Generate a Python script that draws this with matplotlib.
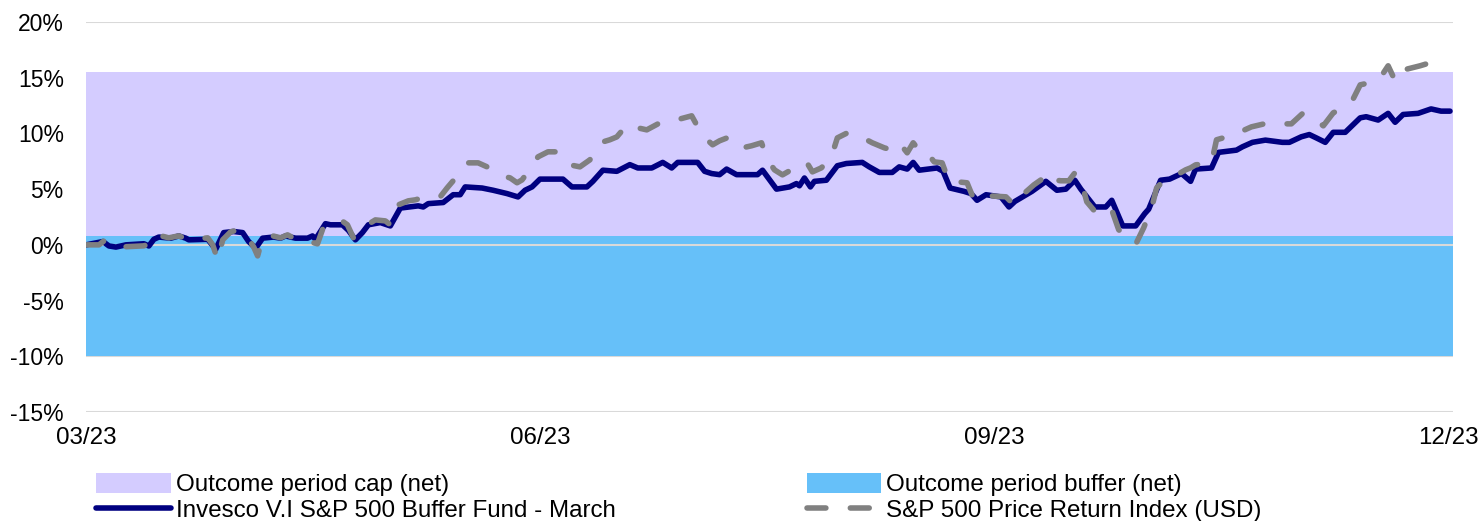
import numpy as np
import matplotlib.pyplot as plt
from matplotlib.patches import Patch
from matplotlib.lines import Line2D

plt.rcParams['font.family'] = ['Liberation Sans', 'DejaVu Sans']

# days since start of the outcome period, cumulative return in %
fund_days = [0, 3.4, 4.6, 6.0, 8.0, 11.6, 12.6, 13.6, 14.6, 17.0, 18.6, 20.0,
             20.6, 24.4, 26.0, 27.6, 29.6, 31.4, 32.6, 34.0, 35.4, 37.6, 39.0,
             40.0, 42.0, 44.4, 45.4, 46.0, 48.0, 49.0, 51.4, 52.6, 54.0, 55.4,
             56.6, 59.0, 61.0, 63.0, 66.6, 67.6, 68.6, 71.6, 73.6, 75.0, 76.0,
             79.4, 81.6, 84.4, 86.6, 88.0, 89.4, 91.0, 95.6, 97.4, 100.4,
             101.6, 103.6, 106.4, 109.0, 110.6, 113.4, 115.6, 117.4, 118.6,
             122.6, 124.0, 125.4, 127.0, 128.4, 130.4, 134.6, 135.6, 138.4,
             141.0, 142.4, 143.0, 144.0, 145.2, 146.0, 148.4, 150.6, 152.4,
             155.6, 157.0, 159.0, 161.6, 163.0, 164.6, 165.8, 167.0, 170.6,
             171.8, 173.2, 176.0, 177.4, 178.6, 180.4, 183.4, 185.0, 186.2,
             189.6, 192.4, 194.6, 196.4, 198.2, 199.4, 202.2, 204.4, 205.6,
             207.8, 210.4, 212.2, 213.0, 215.4, 217.2, 219.6, 221.4, 222.4,
             225.6, 227.0, 230.6, 231.8, 233.8, 236.4, 239.8, 241.2, 243.6,
             245.2, 246.6, 248.4, 250.0, 252.4, 255.4, 256.6, 259.0, 261.0,
             262.4, 264.0, 267.0, 269.6, 271.6, 273.4]
fund_ret = [0.0, 0.3, -0.1, -0.2, 0.0, 0.1, -0.1, 0.5, 0.7, 0.6, 0.8, 0.6,
            0.45, 0.5, -0.4, 1.1, 1.2, 1.1, 0.3, -0.3, 0.6, 0.7, 0.6,
            0.8, 0.6, 0.6, 0.8, 0.5, 1.9, 1.8, 1.8, 1.3, 0.45, 1.1,
            1.8, 2.0, 1.7, 3.3, 3.5, 3.4, 3.7, 3.8, 4.5, 4.5, 5.2,
            5.1, 4.9, 4.6, 4.3, 4.9, 5.2, 5.9, 5.9, 5.2, 5.2,
            5.7, 6.7, 6.6, 7.2, 6.9, 6.9, 7.4, 6.9, 7.4,
            7.4, 6.6, 6.4, 6.3, 6.8, 6.3, 6.3, 6.7, 5.0,
            5.2, 5.5, 5.3, 6.0, 5.2, 5.7, 5.8, 7.1, 7.3,
            7.4, 7.0, 6.5, 6.5, 7.0, 6.8, 7.4, 6.7, 6.9,
            6.6, 5.1, 4.8, 4.6, 4.0, 4.5, 4.3, 3.4, 3.9,
            4.8, 5.7, 4.9, 5.0, 5.8, 5.0, 3.4, 3.4, 4.0,
            1.7, 1.7, 2.8, 3.2, 5.8, 5.9, 6.4, 5.7, 6.8,
            6.9, 8.3, 8.5, 8.8, 9.2, 9.4, 9.2, 9.2, 9.7,
            9.9, 9.6, 9.2, 10.1, 10.1, 11.4, 11.5, 11.2, 11.8,
            11.0, 11.7, 11.8, 12.2, 12.0, 12.0]

spx_days = [0, 2.6, 3.6, 5.4, 7.4, 11.6, 12.6, 13.4, 15.0, 16.6, 18.6, 20.6,
            24.4, 25.4, 26.4, 27.4, 29.0, 30.6, 32.0, 33.6, 34.4, 35.4, 37.4,
            39.0, 40.4, 43.0, 45.0, 46.4, 47.6, 49.0, 51.6, 52.4, 53.6, 55.4,
            58.0, 60.0, 61.0, 62.6, 64.6, 66.0, 67.4, 68.6, 71.0, 72.4, 74.6,
            76.6, 78.6, 80.4, 82.0, 83.4, 85.0, 86.4, 87.4, 88.6, 90.6, 92.6,
            94.6, 97.0, 99.0, 101.0, 103.0, 105.0, 106.4, 108.6, 110.6, 112.4,
            115.4, 117.0, 118.4, 121.4, 122.4, 123.4, 125.6, 127.0, 129.0,
            131.6, 133.4, 135.4, 136.6, 138.0, 139.6, 142.4, 143.4, 144.4,
            145.6, 147.4, 149.4, 150.6, 152.6, 154.6, 157.6, 160.0, 161.4,
            163.0, 164.6, 165.8, 167.4, 168.6, 170.0, 171.6, 173.0, 174.6,
            176.6, 178.0, 179.4, 181.0, 184.4, 185.4, 186.6, 188.4, 190.0,
            191.4, 192.6, 194.0, 195.4, 197.0, 198.2, 199.4, 200.6, 202.8,
            204.2, 205.6, 207.0, 208.6, 210.4, 212.0, 213.6, 214.6, 216.0,
            217.6, 220.4, 221.4, 222.4, 225.6, 226.6, 230.0, 231.8, 233.6,
            237.0, 239.4, 241.6, 244.0, 246.0, 248.0, 250.0, 252.0, 253.6,
            255.4, 257.2, 259.0, 261.0, 262.4, 263.4, 265.0, 267.4, 269.4,
            271.0, 273.0]
spx_ret = [0.0, 0.0, 0.36, -0.18, -0.18, -0.09, 0.09, 0.9, 0.81, 0.63, 0.81,
           0.45, 0.63, 0.0, -1.35, 0.45, 1.17, 1.35, 0.9, -0.18, -0.99, 0.63,
           0.81, 0.63, 0.9, 0.27, 0.27, 0.09, 1.62, 2.06, 2.06, 1.8, 0.63,
           1.53, 2.24, 2.15, 1.8, 3.59, 3.95, 4.04, 4.22, 4.31, 4.31, 5.12,
           6.28, 7.36, 7.36, 7.0, 6.55, 6.19, 6.01, 5.57, 5.83, 6.55, 7.9,
           8.35, 8.35, 7.18, 7.0, 7.63, 9.16, 9.43, 9.69, 10.86, 10.5, 10.32,
           11.04, 11.13, 11.22, 11.58, 10.77, 9.87, 8.98, 9.34, 9.69,
           8.71, 8.89, 9.16, 7.63, 6.73, 6.28, 7.0, 7.27, 7.45,
           6.55, 6.91, 7.9, 9.6, 10.05, 9.87, 9.16, 8.71, 8.53,
           9.16, 8.26, 9.16, 8.26, 8.26, 7.45, 7.36, 5.66, 5.66,
           5.57, 4.04, 4.13, 4.4, 4.31, 3.86, 3.59, 4.76, 5.39,
           5.83, 6.46, 5.83, 5.75, 5.75, 6.46, 5.83, 3.86, 2.69,
           3.05, 3.14, 1.35, 0.72, 0.05, 1.53, 3.32, 5.12, 5.75,
           6.01, 6.73, 6.91, 7.18, 7.36, 9.43, 9.87, 10.23, 10.59,
           10.95, 10.86, 10.86, 11.85, 11.4, 10.68, 11.85, 12.3, 12.75,
           14.36, 14.54, 14.72, 16.07, 14.72, 15.62, 15.8, 16.07, 16.34,
           16.25, 16.07]

# outcome period bands (net)
cap_top = 15.5
band_split = 0.8
buffer_bottom = -10.0

tick_days = [0, 91, 182, 273]
tick_labels = ['03/23', '06/23', '09/23', '12/23']

cap_color = '#d4ccff'
buffer_color = '#66c0f9'
fund_color = '#000080'
spx_color = '#808080'
grid_color = '#d9d9d9'

LW = 4.0
DASH = (3.4, 4.4)

fig = plt.figure(figsize=(14.81, 5.21), dpi=100)
ax = fig.add_axes([86 / 1481, 1 - 412 / 521, 1367 / 1481, 390 / 521])

ax.axhspan(band_split, cap_top, color=cap_color, lw=0, zorder=1)
ax.axhspan(buffer_bottom, band_split, color=buffer_color, lw=0, zorder=1)
ax.axhline(0, color=grid_color, lw=1.5, zorder=2)

ax.plot(fund_days, fund_ret, color=fund_color, lw=LW,
        solid_joinstyle='round', solid_capstyle='round', zorder=3)
ax.plot(spx_days, spx_ret, color=spx_color, lw=LW, dashes=DASH,
        dash_capstyle='round', dash_joinstyle='round', zorder=4)

ax.set_xlim(0, 274)
ax.set_ylim(-15, 20)
ax.set_yticks(np.arange(-15, 21, 5))
ax.set_yticklabels([f'{v}%' for v in range(-15, 21, 5)])
ax.set_xticks(tick_days)
ax.set_xticklabels(tick_labels)
ax.tick_params(length=0)
ax.tick_params(axis='y', pad=16, labelsize=16.5)
ax.tick_params(axis='x', pad=11, labelsize=17.4)
ax.yaxis.grid(True, color=grid_color, lw=1.5)
ax.set_axisbelow(True)
for s in ax.spines.values():
    s.set_visible(False)

handles = [Patch(facecolor=cap_color),
           Line2D([], [], color=fund_color, lw=LW, solid_capstyle='round'),
           Patch(facecolor=buffer_color),
           Line2D([], [], color=spx_color, lw=LW, dashes=DASH,
                  dash_capstyle='round')]
labels = ['Outcome period cap (net)',
          'Invesco V.I S&P 500 Buffer Fund - March',
          'Outcome period buffer (net)',
          'S&P 500 Price Return Index (USD)']
fig.legend(handles, labels, ncol=2, loc='upper left',
           bbox_to_anchor=(96 / 1481, 1 - 473 / 521), frameon=False,
           fontsize=17.4, borderpad=0, borderaxespad=0, handlelength=3.1,
           handleheight=0.9, handletextpad=0.2, columnspacing=7.9,
           labelspacing=0.1)

fig.savefig('out.png', dpi=100)
